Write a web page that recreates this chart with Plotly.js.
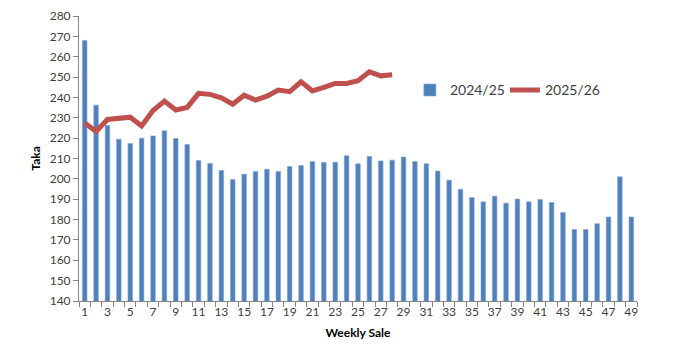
<!DOCTYPE html>
<html>
<head>
<meta charset="utf-8">
<script src="https://cdn.plot.ly/plotly-3.0.1.min.js"></script>
<style>html,body{margin:0;padding:0;background:#fff;}#chart{width:684px;height:363px;}</style>
</head>
<body>
<div id="chart"></div>
<script>
const weeks = Array.from({length: 49}, (_, i) => i + 1);
const series2425 = [268, 236.2, 226.2, 219.5, 217.4, 220, 221.1, 223.6, 219.8, 216.9,
  209, 207.5, 204.1, 199.7, 202.3, 203.6, 204.7, 203.6, 206.1, 206.6,
  208.5, 208, 208.2, 211.3, 207.4, 211, 208.8, 209.2, 210.7, 208.5,
  207.4, 203.8, 199.3, 194.9, 190.8, 188.7, 191.5, 188, 190.1, 188.7,
  189.9, 188.4, 183.5, 175.1, 175.1, 178, 181.3, 201, 181.3];
const series2526 = [227.5, 223.3, 229.2, 229.5, 230.3, 226, 233.6, 238.2, 233.8, 235.1,
  242, 241.5, 239.8, 236.7, 241.1, 238.7, 240.6, 243.6, 242.8, 247.7,
  243.2, 244.9, 246.9, 246.9, 248.2, 252.6, 250.6, 251.1];
const weeks2526 = weeks.slice(0, series2526.length);
const xTickVals = weeks.filter(w => w % 2 === 1);
const yTickVals = [140,150,160,170,180,190,200,210,220,230,240,250,260,270,280];

const font = "Lato, 'Open Sans', 'Liberation Sans', sans-serif";
const data = [
  {type: 'bar', name: '2024/25', x: weeks, y: series2425, width: 0.4,
   marker: {color: '#4F81BD', line: {color: '#7FA3D2', width: 0.6}}},
  {type: 'scatter', mode: 'lines', name: '2025/26', x: weeks2526, y: series2526,
   line: {color: '#C0504D', width: 5}}
];
const layout = {
  width: 684, height: 363,
  margin: {l: 79, r: 47, t: 16, b: 62},
  paper_bgcolor: '#fff', plot_bgcolor: '#fff',
  font: {family: font, size: 12, color: '#404040'},
  showlegend: true,
  legend: {orientation: 'h', x: 0.593, y: 0.795, xanchor: 'left', yanchor: 'top',
           font: {family: font, size: 14, color: '#404040'}, bgcolor: 'rgba(0,0,0,0)',
           traceorder: 'normal', itemwidth: 30, entrywidth: 50, entrywidthmode: 'pixels'},
  xaxis: {range: [0.5, 49.5], tickvals: xTickVals, ticktext: xTickVals.map(String),
          ticks: '', showgrid: false, zeroline: false, showline: true,
          linecolor: '#868686', linewidth: 1, tickfont: {size: 12, color: '#404040'},
          minor: {ticks: 'outside', tick0: 0.5, dtick: 1, ticklen: 5, tickcolor: '#868686', showgrid: false},
          title: {text: 'Weekly Sale', font: {size: 12, color: '#000', weight: 'bold'}, standoff: 10}},
  yaxis: {range: [140, 280], tickvals: yTickVals, ticks: 'outside', ticklen: 5,
          tickcolor: '#868686', showgrid: false, zeroline: false, showline: true,
          linecolor: '#868686', linewidth: 1, tickfont: {size: 12, color: '#404040'},
          title: {text: 'Taka', font: {size: 12, color: '#000', weight: 'bold'}, standoff: 6}},
  bargap: 0.6
};
Plotly.newPlot('chart', data, layout, {displayModeBar: false, staticPlot: true});
</script>
</body>
</html>
